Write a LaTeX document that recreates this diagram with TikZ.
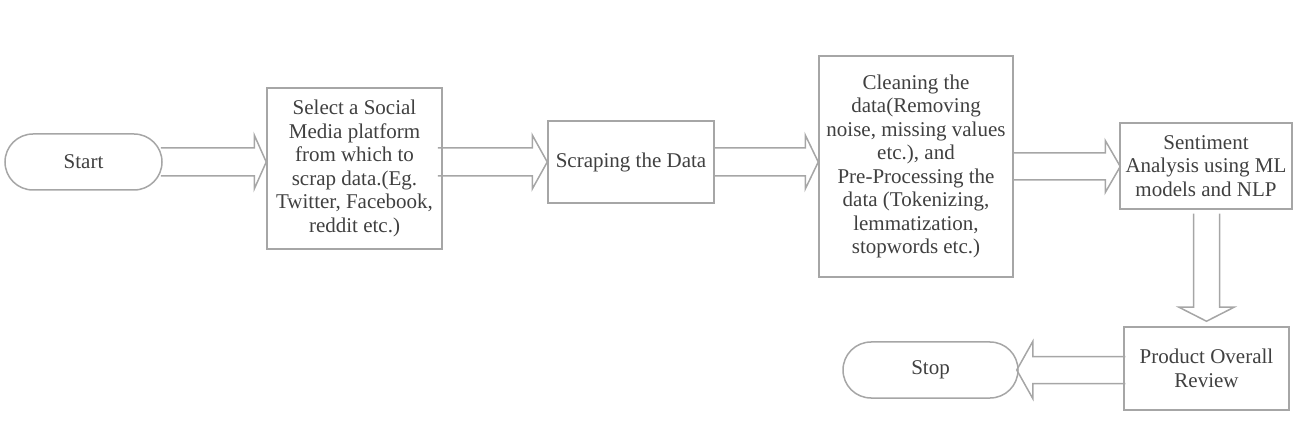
\documentclass[tikz,border=0pt]{standalone}
\usepackage{fontspec}
\setmainfont{Liberation Serif}
\usetikzlibrary{calc}
\definecolor{lc}{HTML}{A6A6A6}
\definecolor{tc}{HTML}{404040}
\tikzset{
  box/.style={draw=lc, line width=1.5pt, fill=white, text=tc, align=center, inner sep=0pt,
    font=\fontsize{21}{23.5}\selectfont},
  term/.style={box, rounded corners=28pt},
  barr/.style={draw=lc, line width=1.5pt, line join=miter}
}
% horizontal block arrow: #1 start point, #2 tip point, #3 half shaft, #4 half wing, #5 head length (signed)
\newcommand\hblock[5]{%
  \draw[barr] let \p1=#1, \p2=#2 in
    (\x1,\y2+#3) -- (\x2-#5,\y2+#3) -- (\x2-#5,\y2+#4) -- (\x2,\y2) --
    (\x2-#5,\y2-#4) -- (\x2-#5,\y2-#3) -- (\x1,\y2-#3);}
\newcommand\vblock[5]{%
  \draw[barr] let \p1=#1, \p2=#2 in
    (\x2+#3,\y1) -- (\x2+#3,\y2+#5) -- (\x2+#4,\y2+#5) -- (\x2,\y2) --
    (\x2-#4,\y2+#5) -- (\x2-#3,\y2+#5) -- (\x2-#3,\y1);}
\begin{document}
\begin{tikzpicture}[x=1pt,y=-1pt]
\useasboundingbox (0,0) rectangle (1311,427);
\node[term, minimum width=157pt, minimum height=56pt] (start) at (83.5,162) {Start};
\node[box, minimum width=175pt, minimum height=161pt] (b1) at (354.5,168.5)
  {Select a Social\\Media platform\\from which to\\scrap data.(Eg.\\Twitter, Facebook,\\reddit etc.)};
\node[box, minimum width=166pt, minimum height=82pt] (b2) at (631,162) {Scraping the Data};
\node[box, minimum width=194pt, minimum height=221pt] (b3) at (916,166.5)
  {Cleaning the\\data(Removing\\noise, missing values\\etc.), and\\Pre-Processing the\\data (Tokenizing,\\lemmatization,\\stopwords etc.)};
\node[box, minimum width=172pt, minimum height=86pt] (b4) at (1206,166)
  {Sentiment\\Analysis using ML\\models and NLP};
\node[box, minimum width=165pt, minimum height=83pt] (b5) at (1206.5,368.5)
  {Product Overall\\Review};
\node[term, minimum width=175pt, minimum height=56pt] (stop) at (930.5,370) {Stop};

\hblock{($(start.east)+(-2,0)$)}{(b1.west |- start.east)}{14pt}{27pt}{12pt}
\hblock{($(b1.east)+(-5,0)$)}{(b2.west)}{14pt}{27pt}{15pt}
\hblock{(b2.east)}{(b3.west |- b2.east)}{14pt}{27pt}{13pt}
\hblock{(b3.east)}{($(b4.west)+(1,0.5)$)}{13.5pt}{26pt}{15pt}
\vblock{($(b4.south)+(0,4)$)}{($(b5.north)+(0,-5)$)}{13pt}{27.5pt}{14pt}
\hblock{($(b5.west)+(2,0)$)}{($(stop.east)+(-2,0)$)}{13.5pt}{28.5pt}{-16pt}
\end{tikzpicture}
\end{document}
